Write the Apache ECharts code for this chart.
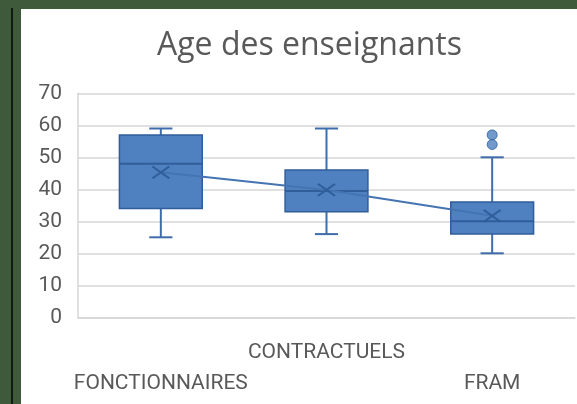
<!DOCTYPE html>
<html>
<head>
<meta charset="utf-8">
<script src="https://cdn.jsdelivr.net/npm/echarts@6/dist/echarts.min.js"></script>
<style>
  html, body { margin: 0; padding: 0; }
  body { width: 577px; height: 404px; background: #3e5a3a; position: relative; overflow: hidden; }
  #edge { position: absolute; left: 11px; top: 8px; width: 2px; height: 396px; background: #121812; }
  #chart { position: absolute; left: 21px; top: 9px; width: 556px; height: 395px; background: #fff; }
</style>
</head>
<body>
<div id="edge"></div>
<div id="chart"></div>
<script>
// categories and box statistics
const categories = ["FONCTIONNAIRES", "CONTRACTUELS", "FRAM"];
const lowWhisker = [25, 26, 20];
const q1 = [34, 33, 26];
const median = [48, 39.5, 30];
const q3 = [57, 46, 36];
const highWhisker = [59, 59, 50];
const means = [45.3, 39.8, 31.7];
const outliers = [[2, 57], [2, 54]];
const yTicks = [0, 10, 20, 30, 40, 50, 60, 70];

const boxFill = "#4f80bf";
const boxLine = "#2f5e9a";
const textColor = "#595959";

const boxData = categories.map((c, i) => [i, lowWhisker[i], q1[i], median[i], q3[i], highWhisker[i]]);

let chart = echarts.init(document.getElementById("chart"));
chart.setOption({
  animation: false,
  title: {
    text: "Age des enseignants",
    left: 131,
    top: 16,
    textStyle: { fontFamily: "Open Sans", fontSize: 32, fontWeight: "normal", color: textColor }
  },
  grid: { left: 57, right: 2, top: 84.3, bottom: 86.7 },
  xAxis: {
    type: "category",
    data: categories,
    axisLine: { lineStyle: { color: "#d6d6d6", width: 1.5 } },
    axisTick: { show: false },
    axisLabel: {
      interval: 0,
      margin: 20,
      fontFamily: "Roboto",
      fontSize: 21,
      lineHeight: 31,
      color: textColor,
      // staggered labels like the original
      formatter: (v, i) => (i % 2 === 0 ? "\n" + v : v)
    }
  },
  yAxis: {
    type: "value",
    min: yTicks[0],
    max: yTicks[yTicks.length - 1],
    interval: 10,
    axisLine: { show: true, lineStyle: { color: "#d6d6d6", width: 1.5 } },
    axisTick: { show: false },
    axisLabel: { margin: 16, fontFamily: "Roboto", fontSize: 21, color: textColor },
    splitLine: { lineStyle: { color: "#d6d6d6", width: 1.5 } }
  },
  series: [
    {
      type: "custom",
      data: boxData,
      encode: { x: 0, y: [1, 2, 3, 4, 5] },
      z: 2,
      renderItem: function (params, api) {
        const i = api.value(0);
        const band = api.size([1, 0])[0];
        const bw = band * 0.5;
        const cw = band * 0.14;
        const pLow = api.coord([i, api.value(1)]);
        const pQ1 = api.coord([i, api.value(2)]);
        const pMed = api.coord([i, api.value(3)]);
        const pQ3 = api.coord([i, api.value(4)]);
        const pHigh = api.coord([i, api.value(5)]);
        const x = pMed[0];
        const wStyle = { stroke: "#3f6dab", lineWidth: 2 };
        return {
          type: "group",
          children: [
            { type: "line", shape: { x1: x, y1: pHigh[1], x2: x, y2: pQ3[1] }, style: wStyle },
            { type: "line", shape: { x1: x, y1: pQ1[1], x2: x, y2: pLow[1] }, style: wStyle },
            { type: "line", shape: { x1: x - cw / 2, y1: pHigh[1], x2: x + cw / 2, y2: pHigh[1] }, style: wStyle },
            { type: "line", shape: { x1: x - cw / 2, y1: pLow[1], x2: x + cw / 2, y2: pLow[1] }, style: wStyle },
            {
              type: "rect",
              shape: { x: x - bw / 2, y: pQ3[1], width: bw, height: pQ1[1] - pQ3[1] },
              style: { fill: boxFill, stroke: boxLine, lineWidth: 1.5 }
            },
            { type: "line", shape: { x1: x - bw / 2, y1: pMed[1], x2: x + bw / 2, y2: pMed[1] }, style: { stroke: boxLine, lineWidth: 2 } }
          ]
        };
      }
    },
    {
      type: "line",
      data: means,
      z: 3,
      symbol: "path://M0,0L17,12M17,0L0,12",
      symbolSize: [17, 12],
      itemStyle: { color: "none", borderColor: "#2f5e9a", borderWidth: 2 },
      lineStyle: { color: "#4574b2", width: 2 }
    },
    {
      type: "scatter",
      data: outliers,
      z: 3,
      symbolSize: 10,
      itemStyle: { color: boxFill, borderColor: boxLine, borderWidth: 1 }
    }
  ]
});
</script>
</body>
</html>
